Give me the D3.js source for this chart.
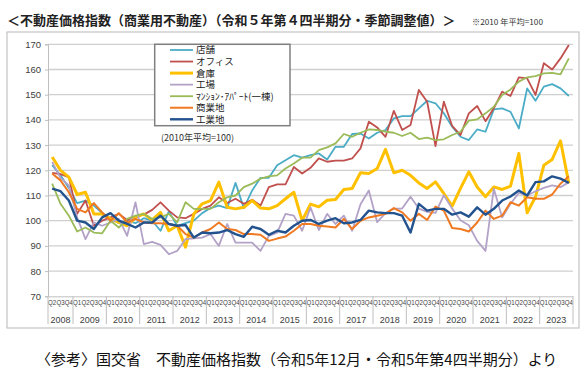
<!DOCTYPE html>
<html lang="ja">
<head>
<meta charset="utf-8">
<title>不動産価格指数（商業用不動産）</title>
<script src="https://cdn.jsdelivr.net/npm/d3@7"></script>
<style>
  body { margin: 0; background: #fff; }
</style>
</head>
<body>
<script>
var w = 584;
var h = 376;

// data
var years = [2008, 2009, 2010, 2011, 2012, 2013, 2014, 2015, 2016, 2017, 2018, 2019, 2020, 2021, 2022, 2023];
var quarterLabels = ["Q1", "Q2", "Q3", "Q4"];
var yTicks = [70, 80, 90, 100, 110, 120, 130, 140, 150, 160, 170];
var seriesNames = ["店舗", "オフィス", "倉庫", "工場", "ﾏﾝｼｮﾝ･ｱﾊﾟｰﾄ(一棟)", "商業地", "工業地"];

var tenpo = [122, 118, 113, 107, 108, 106, 103, 101, 99, 100, 99, 101, 100, 96, 103.7, 98, 99, 100, 103, 105, 106, 105, 115, 105, 112, 117, 117, 122, 124, 126, 125, 126, 126.7, 124.3, 129.3, 129.3, 134.4, 134.6, 132.6, 134.9, 136, 140.6, 141.5, 141.5, 144.6, 147.6, 146.6, 142.6, 137.3, 133.3, 132, 136.2, 135.3, 144.2, 144.6, 143.2, 136.6, 152.5, 147.6, 153.2, 154.2, 152.5, 149.5];
var office = [119, 118.5, 117.3, 102.7, 108, 98, 100, 101.3, 102.7, 100.3, 101.6, 102.4, 104.3, 107.3, 104, 101.3, 101, 102.7, 104.7, 106, 109.3, 107, 108.7, 106.7, 108.3, 106, 113.3, 114.4, 114.4, 121.3, 118.7, 121, 124.7, 123.4, 123.8, 123.8, 124.7, 128.7, 139.3, 137, 133.3, 143.6, 136, 138, 151.9, 147.2, 129.6, 147.2, 137.6, 134, 142.6, 145.5, 139.5, 144.6, 151.2, 149.5, 156.9, 156.5, 149.9, 162.5, 160, 164.4, 169.7];
var souko = [125.3, 120, 117.3, 110.4, 111.3, 102.7, 102.7, 100.7, 99.3, 98, 101.3, 102.7, 100.3, 103.3, 96, 98, 89.5, 102.7, 106.7, 108, 115.3, 105.3, 104.7, 105.3, 108, 105, 104.7, 106, 108.7, 111.3, 100, 106.6, 105.5, 108.1, 108.4, 112.4, 112.8, 119, 118.7, 120.7, 128.3, 119, 120, 118, 115, 112.8, 115.4, 110.8, 105.8, 112.8, 119.4, 113.4, 109.5, 113.4, 112.4, 113.7, 126.7, 103.1, 109.5, 122, 124.3, 131.7, 114.8];
var koujou = [123.3, 117, 114, 101.3, 92.7, 99.3, 98, 99.3, 100.7, 94, 107.3, 90.7, 91.6, 90.4, 86.7, 88, 92.7, 93, 93.3, 94.7, 90, 98.7, 91.3, 91.3, 91.3, 88, 94, 95.3, 102.7, 102, 96, 105.3, 96.3, 102.7, 98.7, 102, 96, 106.5, 112, 99.4, 103, 104.8, 104.8, 109.5, 104.8, 103.5, 103.1, 110.1, 104.8, 100.2, 98.2, 92, 88, 112.7, 101.3, 106.7, 111, 110, 111.7, 113, 114, 113.3, 115.3];
var mansion = [114.7, 106.7, 102, 95.7, 97.3, 95.3, 95, 100, 97.3, 100.7, 102, 102.7, 100.7, 101.3, 102.7, 99.3, 107.3, 104.7, 104.7, 104.7, 107.3, 109.3, 110, 113.3, 114.7, 116.7, 117.6, 118, 120.7, 122.7, 125, 125, 128, 129.1, 130.7, 134.4, 133.3, 134.9, 136.2, 136, 135.3, 134.9, 133.6, 134.9, 132.4, 133, 132, 132.3, 134, 135.3, 139.7, 140.2, 142.6, 145.2, 149.9, 152.1, 155.2, 156.9, 157.4, 158.5, 158.7, 158.1, 164.4];
var shougyouchi = [118.7, 116, 111.3, 104.7, 103.3, 107, 103.3, 100, 103, 99.3, 100.7, 99.3, 99, 99, 98.7, 98, 94.7, 93.3, 95.3, 96.7, 99.3, 96.7, 96.3, 94.7, 94.7, 94.4, 92, 92.9, 93.7, 96, 98.7, 98.7, 98, 97.7, 97.3, 100.7, 96.7, 100, 101.3, 102, 102.7, 105, 103.3, 100, 102.7, 100.3, 105.6, 104, 97.1, 96.7, 95.7, 99.3, 104, 100.7, 102, 107.3, 106, 109.3, 108.7, 108.7, 110.4, 114.7, 117.6];
var kougyouchi = [112.7, 111.7, 108, 100, 99.3, 96.7, 101.3, 103, 100, 98.7, 97.3, 99.3, 99.3, 102, 98.7, 98, 98.3, 93.3, 95.3, 95, 95.3, 96.3, 94.7, 93.6, 97.6, 96.7, 94.4, 96, 95.3, 98, 100, 100.3, 98.7, 100, 101, 99, 99.3, 100.3, 104, 103.3, 103, 103, 102, 95.3, 106.7, 104, 104.7, 104.7, 102.4, 103.3, 101.6, 105.3, 102.4, 104.7, 108, 109.6, 112, 110, 115.3, 115.6, 117.6, 116.7, 115];

var seriesValues = [tenpo, office, souko, koujou, mansion, shougyouchi, kougyouchi];
var seriesColors = ["#4BACC6", "#C0504D", "#FFC000", "#B3A2C7", "#9BBB59", "#F07A22", "#23538E"];
var seriesWidths = [1.8, 1.8, 3, 1.8, 1.8, 2, 2.4];

// 2008 starts at Q2
var categories = [];
years.forEach(function(y) {
  quarterLabels.forEach(function(q, qi) {
    if (y === 2008 && qi === 0) return;
    categories.push(y + q);
  });
});

var jp = "'Noto Sans CJK JP', sans-serif";
var num = "'Liberation Sans', Arial, sans-serif";

// note: "top" is reserved on window, so use plot* names
var plotLeft = 48, plotRight = 573, plotTop = 44.3, plotBottom = 296.3;

var xScale = d3.scaleBand()
               .domain(categories)
               .range([plotLeft, plotRight])
               .padding(0);

var yScale = d3.scaleLinear()
               .domain([70, 170])
               .range([plotBottom, plotTop]);

var svg = d3.select("body")
            .append("svg")
            .attr("width", w)
            .attr("height", h);

// title
svg.append("text")
   .attr("x", 7)
   .attr("y", 25)
   .attr("font-family", jp)
   .attr("font-weight", "bold")
   .attr("font-size", "13px")
   .attr("fill", "#222")
   .text("＜不動産価格指数（商業用不動産）（令和５年第４四半期分・季節調整値）＞");

svg.append("text")
   .attr("x", 472)
   .attr("y", 25)
   .attr("font-family", jp)
   .attr("font-size", "8.2px")
   .attr("fill", "#333")
   .text("※2010 年平均=100");

// outer frame
svg.append("rect")
   .attr("x", 7)
   .attr("y", 32)
   .attr("width", 572)
   .attr("height", 296)
   .attr("fill", "#fff")
   .attr("stroke", "#c4c4c4")
   .attr("stroke-width", 1.2);

// gridlines
svg.append("g")
   .selectAll("line")
   .data(yTicks.slice(1))
   .enter()
   .append("line")
   .attr("x1", plotLeft)
   .attr("x2", plotRight)
   .attr("y1", function(d) { return yScale(d); })
   .attr("y2", function(d) { return yScale(d); })
   .attr("stroke", "#cfcfcf")
   .attr("stroke-width", 1.3);

// y axis
var yAxis = d3.axisLeft(yScale)
              .tickValues(yTicks)
              .tickSize(3)
              .tickPadding(4);

var yg = svg.append("g")
            .attr("transform", "translate(" + plotLeft + ",0)")
            .call(yAxis);
yg.select(".domain").attr("stroke", "#bfbfbf");
yg.selectAll(".tick line").attr("stroke", "#bfbfbf");
yg.selectAll(".tick text")
  .attr("font-family", num)
  .attr("font-size", "9.5px")
  .attr("fill", "#404040");

// x axis (quarters)
var xAxis = d3.axisBottom(xScale)
              .tickSize(0)
              .tickPadding(4)
              .tickFormat(function(d) { return d.slice(4); });

var xg = svg.append("g")
            .attr("transform", "translate(0," + plotBottom + ")")
            .call(xAxis);
xg.select(".domain").attr("stroke", "#bfbfbf");
xg.selectAll(".tick text")
  .attr("font-family", num)
  .attr("font-size", "7px")
  .attr("textLength", 8.2)
  .attr("lengthAdjust", "spacingAndGlyphs")
  .attr("fill", "#404040");

// year bands
var yearStart = years.map(function(y) {
  return xScale(y === 2008 ? y + "Q2" : y + "Q1");
});
var bounds = yearStart.concat([plotRight]);

svg.append("g")
   .selectAll("line")
   .data(bounds)
   .enter()
   .append("line")
   .attr("x1", function(d) { return d; })
   .attr("x2", function(d) { return d; })
   .attr("y1", plotBottom)
   .attr("y2", 324)
   .attr("stroke", "#bfbfbf")
   .attr("stroke-width", 1);

svg.append("g")
   .selectAll("text")
   .data(years)
   .enter()
   .append("text")
   .attr("x", function(d, i) { return (bounds[i] + bounds[i + 1]) / 2; })
   .attr("y", 322.5)
   .attr("text-anchor", "middle")
   .attr("font-family", num)
   .attr("font-size", "9px")
   .attr("fill", "#404040")
   .text(function(d) { return d; });

// lines
var line = d3.line()
             .x(function(d, i) { return xScale(categories[i]) + xScale.bandwidth() / 2; })
             .y(function(d) { return yScale(d); });

svg.append("g")
   .selectAll("path")
   .data(seriesValues)
   .enter()
   .append("path")
   .attr("d", line)
   .attr("fill", "none")
   .attr("stroke", function(d, i) { return seriesColors[i]; })
   .attr("stroke-width", function(d, i) { return seriesWidths[i]; })
   .attr("stroke-linejoin", "round");

// legend
svg.append("rect")
   .attr("x", 154.7)
   .attr("y", 44.3)
   .attr("width", 135.3)
   .attr("height", 81.4)
   .attr("fill", "#fff")
   .attr("stroke", "#808080")
   .attr("stroke-width", 1.5);

var legend = svg.append("g")
                .selectAll("g")
                .data(seriesNames)
                .enter()
                .append("g")
                .attr("transform", function(d, i) { return "translate(0," + (50 + i * 11.55) + ")"; });

legend.append("line")
      .attr("x1", 170)
      .attr("x2", 193)
      .attr("stroke", function(d, i) { return seriesColors[i]; })
      .attr("stroke-width", function(d, i) { return seriesWidths[i]; });

legend.append("text")
      .attr("x", 196)
      .attr("y", 3.4)
      .attr("font-family", jp)
      .attr("font-size", "9.5px")
      .attr("fill", "#222")
      .text(function(d) { return d; });

svg.append("text")
   .attr("x", 161)
   .attr("y", 140.5)
   .attr("font-family", jp)
   .attr("font-size", "9px")
   .attr("fill", "#333")
   .text("(2010年平均=100)");

// source caption
svg.append("text")
   .attr("x", 36)
   .attr("y", 365)
   .attr("font-family", jp)
   .attr("font-size", "15px")
   .attr("fill", "#111")
   .text("〈参考〉国交省　不動産価格指数（令和5年12月・令和5年第4四半期分）より");

</script>
</body>
</html>
